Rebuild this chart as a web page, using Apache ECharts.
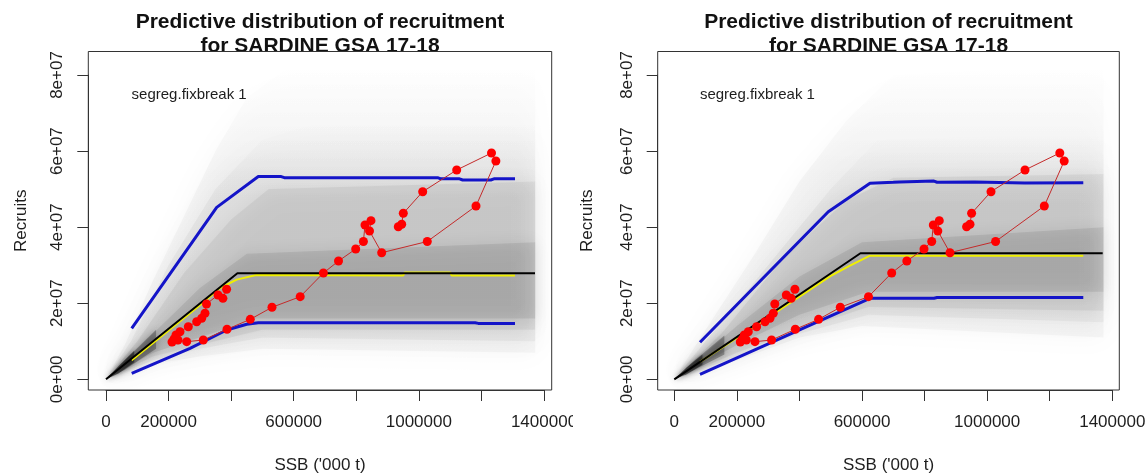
<!DOCTYPE html>
<html><head><meta charset="utf-8">
<script src="https://cdn.jsdelivr.net/npm/echarts@6/dist/echarts.min.js"></script>
<style>
html,body{margin:0;padding:0;background:#fff;}
#wrap{display:flex;width:1146px;height:475px;}
.p{width:573px;height:475px;overflow:hidden;}
</style>
</head><body>
<div id="wrap"><div id="c1" class="p"></div><div id="c2" class="p"></div></div>
<script>
// ---------- text / ticks ----------
const titleText = 'Predictive distribution of recruitment\nfor SARDINE GSA 17-18';
const modelLabel = 'segreg.fixbreak 1';
const xName = "SSB ('000 t)";
const yName = 'Recruits';
const xTickValues = [0, 200000, 400000, 600000, 800000, 1000000, 1200000, 1400000];
const xTickLabels = ['0', '200000', '', '600000', '', '1000000', '', '1400000'];
const yTickValues = [0, 2e7, 4e7, 6e7, 8e7];
const yTickLabels = ['0e+00', '2e+07', '4e+07', '6e+07', '8e+07'];

// ---------- observed stock-recruit points (same in both panels) ----------
const obsSSB = [385500, 373700, 358000, 321200, 316400, 305900, 289900, 263100, 236500, 223700, 217400, 211000, 230100, 257900, 311000, 386800, 461200, 530600, 620700, 694900, 743200, 798200, 822800, 827900, 847000, 842300, 881200, 1027000, 1182700, 1246300, 1232200, 1121000, 1012300, 950300, 945200, 934300];
const obsRec = [2.366e7, 2.129e7, 2.216e7, 1.98e7, 1.735e7, 1.604e7, 1.514e7, 1.383e7, 1.251e7, 1.165e7, 1.06e7, 9.81e6, 1.033e7, 9.89e6, 1.033e7, 1.315e7, 1.577e7, 1.893e7, 2.172e7, 2.795e7, 3.11e7, 3.426e7, 3.623e7, 4.057e7, 4.17e7, 3.899e7, 3.328e7, 3.623e7, 4.556e7, 5.739e7, 5.95e7, 5.503e7, 4.932e7, 4.364e7, 4.075e7, 4.012e7];

// ---------- left panel lines ----------
const L_upper = [[82150, 1.341e7], [353800, 4.52e7], [486800, 5.33e7], [560000, 5.33e7], [570000, 5.30e7], [1060000, 5.30e7], [1070000, 5.27e7], [1130000, 5.27e7], [1140000, 5.24e7], [1230000, 5.24e7], [1240000, 5.27e7], [1307300, 5.27e7]];
const L_lower = [[82150, 1.58e6], [268500, 8.15e6], [385800, 1.296e7], [449700, 1.446e7], [486800, 1.488e7], [1180000, 1.488e7], [1190000, 1.47e7], [1307300, 1.47e7]];
const L_median = [[0, 0], [420000, 2.787e7], [1371300, 2.787e7]];
const L_yellow = [[82150, 5.0e6], [300000, 1.95e7], [364400, 2.40e7], [417800, 2.62e7], [480000, 2.74e7], [950000, 2.73e7], [955000, 2.81e7], [1100000, 2.81e7], [1105000, 2.73e7], [1307300, 2.73e7]];

// ---------- left panel cloud envelopes ----------
const L_b1_up = [[0, 0], [60000, 9e6], [150000, 2.6e7], [250000, 4.3e7], [350000, 6.0e7], [450000, 7.4e7], [600000, 8.3e7], [1372000, 8.3e7]];
const L_b1_lo = [[0, 0], [150000, 4e6], [300000, 6e6], [500000, 8e6], [1372000, 7e6]];
const L_b2_up = [[0, 0], [80000, 1.0e7], [200000, 3.0e7], [350000, 5.0e7], [500000, 6.3e7], [700000, 6.8e7], [1372000, 6.8e7]];
const L_b2_lo = [[0, 0], [150000, 5e6], [300000, 8e6], [500000, 1.1e7], [1372000, 1.0e7]];
const L_b3_up = [[0, 0], [100000, 1.0e7], [250000, 2.8e7], [400000, 4.2e7], [520000, 5.0e7], [1372000, 5.2e7]];
const L_b3_lo = [[0, 0], [150000, 6e6], [300000, 9e6], [500000, 1.3e7], [1372000, 1.3e7]];
const L_b4_up = [[0, 0], [150000, 1.2e7], [300000, 2.4e7], [450000, 3.3e7], [1372000, 3.6e7]];
const L_b4_lo = [[0, 0], [150000, 7e6], [300000, 1.1e7], [480000, 1.6e7], [1372000, 1.6e7]];
const L_w1_up = [[0, 0], [60000, 5e6], [160000, 1.3e7]];
const L_w1_lo = [[0, 0], [60000, 2.5e6], [160000, 8e6]];
const L_w2_up = [[0, 0], [40000, 3.5e6], [90000, 7.5e6]];
const L_w2_lo = [[0, 0], [40000, 1.5e6], [90000, 4.5e6]];

// ---------- right panel lines ----------
const R_upper = [[82150, 9.73e6], [492200, 4.406e7], [625500, 5.153e7], [700000, 5.18e7], [720000, 5.19e7], [830000, 5.21e7], [840000, 5.18e7], [960000, 5.19e7], [1120000, 5.16e7], [1307300, 5.17e7]];
const R_lower = [[82150, 1.31e6], [625500, 2.13e7], [830000, 2.13e7], [840000, 2.15e7], [1307300, 2.15e7]];
const R_median = [[0, 0], [595000, 3.313e7], [1369300, 3.313e7]];
const R_yellow = [[82150, 4.6e6], [300000, 1.63e7], [500000, 2.72e7], [560000, 2.98e7], [625500, 3.25e7], [1307300, 3.25e7]];

// ---------- right panel cloud envelopes ----------
const R_b1_up = [[0, 0], [100000, 1.3e7], [250000, 3.2e7], [400000, 5.2e7], [550000, 6.8e7], [700000, 8.0e7], [1372000, 8.3e7]];
const R_b1_lo = [[0, 0], [200000, 5e6], [400000, 1.1e7], [600000, 1.4e7], [1372000, 1.1e7]];
const R_b2_up = [[0, 0], [100000, 1.0e7], [300000, 3.0e7], [500000, 5.0e7], [650000, 6.3e7], [1372000, 6.5e7]];
const R_b2_lo = [[0, 0], [200000, 6e6], [400000, 1.2e7], [620000, 1.7e7], [1372000, 1.5e7]];
const R_b3_up = [[0, 0], [150000, 1.2e7], [350000, 3.2e7], [550000, 4.7e7], [700000, 5.3e7], [1372000, 5.4e7]];
const R_b3_lo = [[0, 0], [200000, 7e6], [400000, 1.3e7], [620000, 1.9e7], [1372000, 1.8e7]];
const R_b4_up = [[0, 0], [200000, 1.4e7], [400000, 2.7e7], [600000, 3.6e7], [1372000, 4.0e7]];
const R_b4_lo = [[0, 0], [200000, 9e6], [400000, 1.7e7], [620000, 2.3e7], [1372000, 2.3e7]];
const R_w1_up = [[0, 0], [60000, 4.6e6], [160000, 1.15e7]];
const R_w1_lo = [[0, 0], [60000, 2.3e6], [160000, 6.5e6]];
const R_w2_up = [[0, 0], [40000, 3.2e6], [90000, 6.5e6]];
const R_w2_lo = [[0, 0], [40000, 1.3e6], [90000, 3.8e6]];

// ---------- builder ----------
const FONT = 'Liberation Sans, Arial, sans-serif';
const TXT = '#1e1e1e';

function fadeFill(a, rampEnd) {
  return new echarts.graphic.LinearGradient(0, 0, 0, 1, [
    { offset: 0, color: 'rgba(0,0,0,0)' },
    { offset: rampEnd, color: 'rgba(0,0,0,' + a + ')' },
    { offset: 1, color: 'rgba(0,0,0,' + a + ')' }
  ]);
}
// soft-edged polygon: the blurred shadow of the fill spreads the edge
function band(up, lo, fill, blur) {
  return {
    type: 'custom', xAxisIndex: 0, yAxisIndex: 0, silent: true, clip: true, z: 2,
    data: [[up[0][0], up[0][1]]],
    renderItem: function (params, api) {
      const pts = up.map(p => api.coord(p)).concat(lo.slice().reverse().map(p => api.coord(p)));
      return { type: 'polygon', shape: { points: pts },
        style: { fill: fill, shadowBlur: blur, shadowColor: 'rgba(0,0,0,1)', shadowOffsetX: 0, shadowOffsetY: 0 } };
    }
  };
}
function line(data, color, width, z) {
  return { type: 'line', xAxisIndex: 0, yAxisIndex: 0, data: data, showSymbol: false, symbol: 'none',
    lineStyle: { color: color, width: width }, z: z, silent: true };
}

function makeOption(P) {
  const boxRight = 573 - P.boxR;
  const xPerPx = 200000 / 62.57;
  const yPerPx = 2e7 / 76.075;
  const xMin = (P.boxL - P.x0) * xPerPx, xMax = (P.boxR - P.x0) * xPerPx;
  const yMin = -(390 - 379.3) * yPerPx, yMax = (379.3 - 51.5) * yPerPx;
  const cx = (P.boxL + P.boxR) / 2;
  const redPts = obsSSB.map((s, i) => [s, obsRec[i]]);
  const tickStyle = { show: true, length: 11, lineStyle: { color: '#333', width: 1 } };
  const axLine = { show: true, lineStyle: { color: '#333', width: 1 } };
  const hidden = { show: false };
  return {
    animation: false,
    backgroundColor: '#fff',
    textStyle: { fontFamily: FONT },
    title: {
      text: titleText, left: cx, top: 10, textAlign: 'center', padding: 0, z: 0,
      textStyle: { fontSize: 21, fontWeight: 'bold', color: '#111', lineHeight: 24, fontFamily: FONT }
    },
    graphic: [{
      type: 'text', x: P.x0 + 25.6, y: 95, z: 10,
      style: { text: modelLabel, fontSize: 15, fill: TXT, fontFamily: FONT, verticalAlign: 'middle', textVerticalAlign: 'middle' }
    }],
    grid: [
      { left: P.boxL, right: boxRight, top: 51.5, bottom: 85, show: true, backgroundColor: '#fff',
        borderColor: '#333', borderWidth: 1, z: 1, outerBoundsMode: 'none', containLabel: false },
      { left: P.x0, right: 573 - (P.x0 + 7 * 62.57), top: 51.5, bottom: 85, show: false, z: 3,
        outerBoundsMode: 'none', containLabel: false },
      { left: P.boxL, right: boxRight, top: 75, bottom: 475 - 379.3, show: false, z: 3,
        outerBoundsMode: 'none', containLabel: false }
    ],
    xAxis: [
      { gridIndex: 0, type: 'value', min: xMin, max: xMax, axisLine: hidden, axisTick: hidden,
        axisLabel: hidden, splitLine: hidden,
        name: xName, nameLocation: 'middle', nameGap: 66,
        nameTextStyle: { fontSize: 17, color: TXT, fontFamily: FONT, lineHeight: 18 } },
      { gridIndex: 1, type: 'value', min: 0, max: 1400000, interval: 200000, z: 3,
        axisLine: axLine, splitLine: hidden, axisTick: tickStyle,
        axisLabel: { show: true, margin: 24, fontSize: 17, lineHeight: 17, color: TXT, fontFamily: FONT, hideOverlap: false,
          formatter: v => { const i = xTickValues.indexOf(Math.round(v)); return i >= 0 ? xTickLabels[i] : ''; } } },
      { gridIndex: 2, type: 'value', min: 0, max: 1, show: false }
    ],
    yAxis: [
      { gridIndex: 0, type: 'value', min: yMin, max: yMax, axisLine: hidden, axisTick: hidden,
        axisLabel: hidden, splitLine: hidden,
        name: yName, nameLocation: 'middle', nameGap: P.nameGapY,
        nameTextStyle: { fontSize: 17, color: TXT, fontFamily: FONT, lineHeight: 18 } },
      { gridIndex: 1, type: 'value', min: 0, max: 1, show: false },
      { gridIndex: 2, type: 'value', min: 0, max: 8e7, interval: 2e7, z: 3,
        axisLine: axLine, splitLine: hidden, axisTick: tickStyle,
        axisLabel: { show: true, rotate: 90, margin: 22, fontSize: 17, lineHeight: 17, color: TXT, fontFamily: FONT, hideOverlap: false,
          formatter: v => { const i = yTickValues.indexOf(Math.round(v)); return i >= 0 ? yTickLabels[i] : ''; } } }
    ],
    series: [
      band(P.b1u, P.b1l, fadeFill(0.03, 0.35), 24),
      band(P.b2u, P.b2l, fadeFill(0.04, 0.3), 22),
      band(P.b3u, P.b3l, 'rgba(0,0,0,0.05)', 20),
      band(P.b4u, P.b4l, 'rgba(0,0,0,0.08)', 16),
      band(P.w1u, P.w1l, 'rgba(0,0,0,0.28)', 8),
      band(P.w2u, P.w2l, 'rgba(0,0,0,0.42)', 5),
      line(P.upper, '#1414c8', 3, 3),
      line(P.lower, '#1414c8', 3, 3),
      line(P.yellow, '#f0f000', 2, 4),
      line(P.median, '#000000', 2, 5),
      { type: 'line', xAxisIndex: 0, yAxisIndex: 0, data: redPts, symbol: 'circle', symbolSize: 9, showSymbol: true,
        itemStyle: { color: '#ff0000', borderWidth: 0 }, lineStyle: { color: '#c42a2a', width: 1 }, z: 6, silent: true }
    ]
  };
}

const left = {
  x0: 106, boxL: 88.3, boxR: 551.7, nameGapY: 58,
  upper: L_upper, lower: L_lower, median: L_median, yellow: L_yellow,
  b1u: L_b1_up, b1l: L_b1_lo, b2u: L_b2_up, b2l: L_b2_lo, b3u: L_b3_up, b3l: L_b3_lo, b4u: L_b4_up, b4l: L_b4_lo,
  w1u: L_w1_up, w1l: L_w1_lo, w2u: L_w2_up, w2l: L_w2_lo
};
const right = {
  x0: 101.3, boxL: 84.7, boxR: 546.3, nameGapY: 61,
  upper: R_upper, lower: R_lower, median: R_median, yellow: R_yellow,
  b1u: R_b1_up, b1l: R_b1_lo, b2u: R_b2_up, b2l: R_b2_lo, b3u: R_b3_up, b3l: R_b3_lo, b4u: R_b4_up, b4l: R_b4_lo,
  w1u: R_w1_up, w1l: R_w1_lo, w2u: R_w2_up, w2l: R_w2_lo
};

echarts.init(document.getElementById('c1'), null, { renderer: 'canvas' }).setOption(makeOption(left));
echarts.init(document.getElementById('c2'), null, { renderer: 'canvas' }).setOption(makeOption(right));
</script>
</body></html>
